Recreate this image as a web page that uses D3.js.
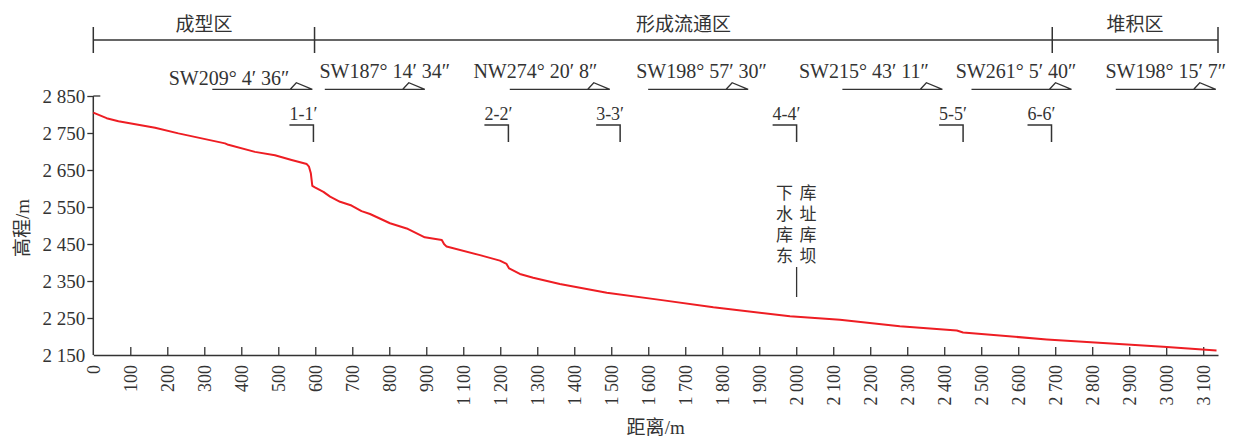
<!DOCTYPE html>
<html><head><meta charset="utf-8">
<script src="https://cdn.jsdelivr.net/npm/d3@7"></script>
<style>body{margin:0;background:#fff}svg{display:block}</style>
</head><body><svg id="c" width="1236" height="439"></svg>
<script>
// profile data (distance along axis, elevation in m)
const distance = [0,36,68,167,230,356,365,437,491,536,577,583,588,592,599,622,640,667,698,725,748,802,847,896,942,948,955,1045,1099,1117,1124,1153,1189,1261,1388,1532,1676,1883,2018,2180,2334,2351,2577,2892,3036];
const elevation = [2805,2790,2782,2764,2749,2722,2718,2699,2690,2677,2666,2659,2641,2607,2603,2591,2578,2564,2554,2539,2531,2506,2492,2468,2461,2450,2443,2420,2405,2396,2384,2369,2359,2342,2318,2299,2279,2255,2245,2228,2216,2211,2192,2172,2162];

const xTickLabels = ["0","100","200","300","400","500","600","700","800","900","1 100","1 200","1 300","1 400","1 500","1 600","1 700","1 800","1 900","2 000","2 100","2 200","2 300","2 400","2 500","2 600","2 700","2 800","2 900","3 000","3 100"];
const yTicks = [2150,2250,2350,2450,2550,2650,2750,2850];
const yTickLabels = ["2 150","2 250","2 350","2 450","2 550","2 650","2 750","2 850"];

const zoneNames = ["成型区","形成流通区","堆积区"];
const zoneBounds = [0,598,2592,3040];

const sectionNames = ["1-1′","2-2′","3-3′","4-4′","5-5′","6-6′"];
const sectionAt = [595,1122,1424,1901,2351,2590];

const bearingText = ["SW209° 4′ 36″","SW187° 14′ 34″","NW274° 20′ 8″","SW198° 57′ 30″","SW215° 43′ 11″","SW261° 5′ 40″","SW198° 15′ 7″"];
const bearingEnd = [592,896,1396,1770,2295,2644,3034];
const bearingLabelAt = [367,788,1195,1644,2083,2494,2899];

const noteAt = 1901;
const noteCols = ["下水库东","库址库坝"];

const xTitle = "距离/m", yTitle = "高程/m";

const ink = "#333", red = "#ee1d23";
const serif = "'Liberation Serif','Times New Roman',serif";
const cjk = "'Noto Sans CJK SC',sans-serif";

const svg = d3.select("#c");
const x = d3.scaleLinear().domain([0,3040]).range([93.3,1218]);
const y = d3.scaleLinear().domain([2150,2850]).range([355,96]);

// axes
const xAxis = d3.axisBottom(x).tickValues(d3.range(0,3001,100)).tickSize(0)
  .tickFormat((d,i)=>xTickLabels[i]);
const gx = svg.append("g").attr("transform","translate(0,355)").call(xAxis);
gx.select(".domain").attr("stroke",ink).attr("stroke-width",1.5);
gx.selectAll(".tick line").remove();
gx.selectAll(".tick").filter(d=>d>0).append("line").attr("y1",0).attr("y2",-8).attr("stroke",ink).attr("stroke-width",1.3);
gx.selectAll(".tick text").attr("font-family",serif).attr("font-size",18).attr("fill",ink)
  .attr("text-anchor","end").attr("dy","0.33em").attr("y",0)
  .attr("transform","translate(0,10) rotate(-90)");

const yAxis = d3.axisLeft(y).tickValues(yTicks).tickSize(6).tickPadding(2)
  .tickFormat((d,i)=>yTickLabels[i]);
const gy = svg.append("g").attr("transform","translate(93.3,0)").call(yAxis);
gy.select(".domain").attr("d","M0,"+y(2850)+"V"+y(2150)).attr("stroke",ink).attr("stroke-width",1.5);
gy.selectAll(".tick line").attr("stroke",ink).attr("stroke-width",1.3);
gy.selectAll(".tick").filter(d=>d===2150).select("line").remove();
gy.append("line").attr("x1",0).attr("x2",7).attr("y1",y(2850)).attr("y2",y(2850)).attr("stroke",ink).attr("stroke-width",1.3);
gy.selectAll(".tick text").attr("font-family",serif).attr("font-size",19).attr("fill",ink);

// titles
function mixed(g, str){
  const m = str.split("/");
  g.append("tspan").attr("font-family",cjk).text(m[0]);
  g.append("tspan").attr("font-family",serif).text("/"+m[1]);
}
const xt = svg.append("text").attr("x",(x.range()[0]+x.range()[1])/2).attr("y",434)
  .attr("text-anchor","middle").attr("font-size",19).attr("fill",ink);
mixed(xt,xTitle);
const yt = svg.append("text").attr("transform","translate(29,228) rotate(-90)")
  .attr("text-anchor","middle").attr("font-size",19).attr("fill",ink);
mixed(yt,yTitle);

// profile line
svg.append("path").datum(distance.map((d,i)=>[d,elevation[i]]))
  .attr("d",d3.line().x(d=>x(d[0])).y(d=>y(d[1])))
  .attr("fill","none").attr("stroke",red).attr("stroke-width",2).attr("stroke-linejoin","round");

// zone bar
svg.append("line").attr("x1",x(zoneBounds[0])).attr("x2",x(zoneBounds[3])).attr("y1",40).attr("y2",40)
  .attr("stroke",ink).attr("stroke-width",1.5);
zoneBounds.forEach(b=>svg.append("line").attr("x1",x(b)).attr("x2",x(b)).attr("y1",27).attr("y2",53)
  .attr("stroke",ink).attr("stroke-width",1.5));
zoneNames.forEach((n,i)=>svg.append("text").attr("x",(x(zoneBounds[i])+x(zoneBounds[i+1]))/2).attr("y",31)
  .attr("text-anchor","middle").attr("font-family",cjk).attr("font-size",19).attr("fill",ink).text(n));

// bearings
bearingText.forEach((t,i)=>{
  const xe = x(bearingEnd[i]), xs = xe-100, tl = xe-22, pk = xe-16;
  svg.append("path").attr("d",`M${xs},89.3H${xe}L${pk},82.7L${tl},89.3`)
    .attr("fill","none").attr("stroke",ink).attr("stroke-width",1.3);
  svg.append("text").attr("x",x(bearingLabelAt[i])).attr("y",i===0?85:78).attr("text-anchor","middle")
    .attr("font-family",serif).attr("font-size",20).attr("fill",ink).text(t);
});

// sections
sectionNames.forEach((s,i)=>{
  const xs = x(sectionAt[i]);
  svg.append("path").attr("d",`M${xs-24},125H${xs}V142`).attr("fill","none").attr("stroke",ink).attr("stroke-width",1.5);
  svg.append("text").attr("x",xs-24).attr("y",119.5).attr("font-family",serif).attr("font-size",18).attr("fill",ink).text(s);
});

// reservoir note (vertical columns)
const nx = x(noteAt);
noteCols.forEach((col,c)=>{
  svg.append("text").attr("x",nx-12+c*23.5).attr("y",184.5)
    .attr("writing-mode","vertical-rl").attr("text-anchor","start")
    .attr("letter-spacing",3.7)
    .attr("font-family",cjk).attr("font-size",17).attr("fill",ink).text(col);
});
svg.append("line").attr("x1",nx).attr("x2",nx).attr("y1",267).attr("y2",297).attr("stroke",ink).attr("stroke-width",1.3);
</script></body></html>
